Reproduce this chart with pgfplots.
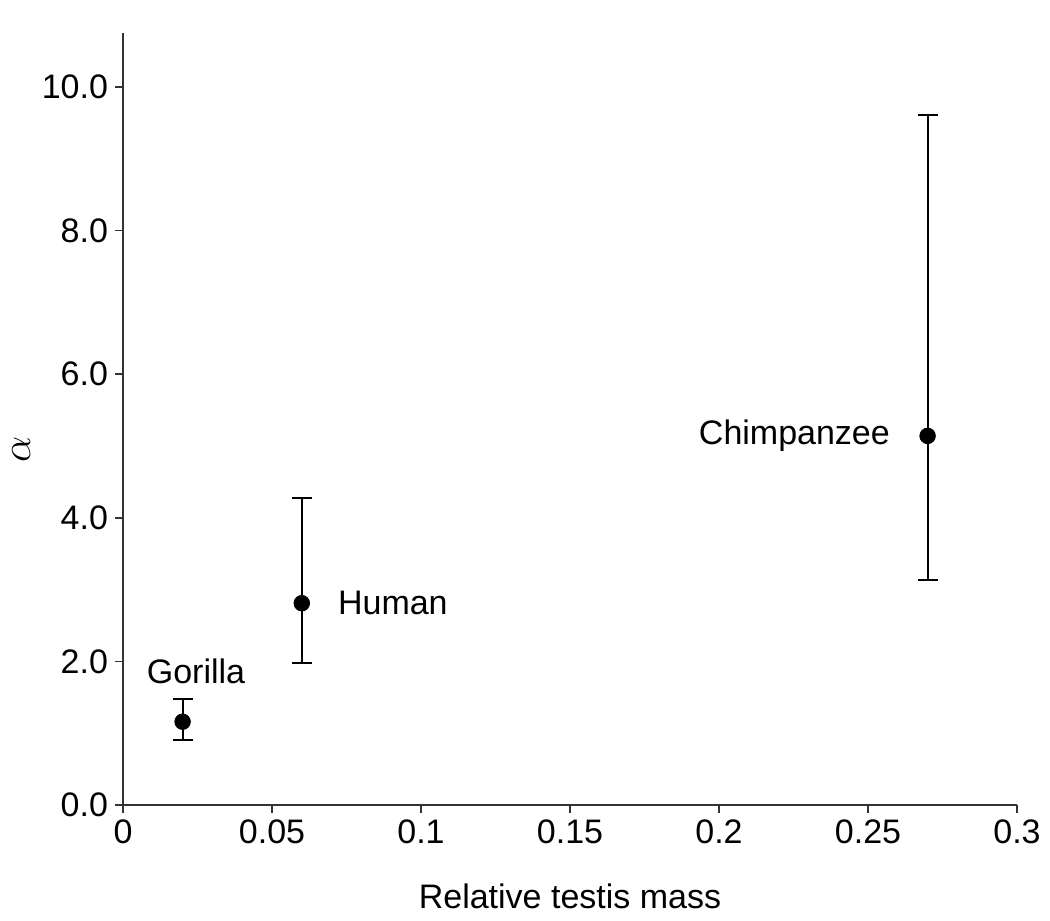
\documentclass[border=0pt]{standalone}
\usepackage{fontspec}
\setmainfont{Liberation Sans}
\usepackage{pgfplots}
\pgfplotsset{compat=1.18}
\begin{document}
\begin{tikzpicture}
\begin{axis}[
  scale only axis,
  width=447pt, height=386pt,
  xmin=0, xmax=0.3, ymin=0, ymax=10.75,
  axis lines*=left,
  axis line style={line width=0.9pt, color=black!80},
  tick style={line width=0.8pt, color=black!80},
  tick align=outside,
  major tick length=4pt,
  xtick={0,0.05,0.1,0.15,0.2,0.25,0.3},
  xticklabels={0,0.05,0.1,0.15,0.2,0.25,0.3},
  ytick={0,2,4,6,8,10},
  yticklabel style={/pgf/number format/.cd, fixed, fixed zerofill, precision=1, assume math mode=true},
  ticklabel style={font=\fontsize{17}{20}\selectfont},
  xlabel={Relative testis mass},
  ylabel={$\alpha$},
  xlabel style={font=\fontsize{17}{20}\selectfont, yshift=-13pt},
  ylabel style={font=\fontsize{22}{26}\selectfont, inner sep=0pt, at={(axis description cs:-0.114,0.46)}, anchor=center},
  clip=false,
]
\addplot[only marks, mark=*, mark size=3.9pt, black,
  error bars/.cd, y dir=both, y explicit,
  error bar style={line width=1pt},
  error mark options={rotate=90, mark size=5pt, line width=1pt}]
  table[x=x, y=y, y error plus=ep, y error minus=em] {
  x     y     ep    em
  0.02  1.16  0.31  0.26
  0.06  2.81  1.47  0.83
  0.27  5.14  4.47  2.01
};
\node[font=\fontsize{17}{20}\selectfont] at (axis cs:0.0245,1.86) {Gorilla};
\node[font=\fontsize{17}{20}\selectfont, anchor=west] at (axis cs:0.0698,2.81) {Human};
\node[font=\fontsize{17}{20}\selectfont, anchor=east] at (axis cs:0.2597,5.14) {Chimpanzee};
\end{axis}
\path (current axis.north east) ++(16.5pt,16.5pt) coordinate (tr);
\path (current axis.south west) ++(-61.5pt,-58pt) coordinate (bl);
\path[use as bounding box] (bl) rectangle (tr);
\end{tikzpicture}
\end{document}
